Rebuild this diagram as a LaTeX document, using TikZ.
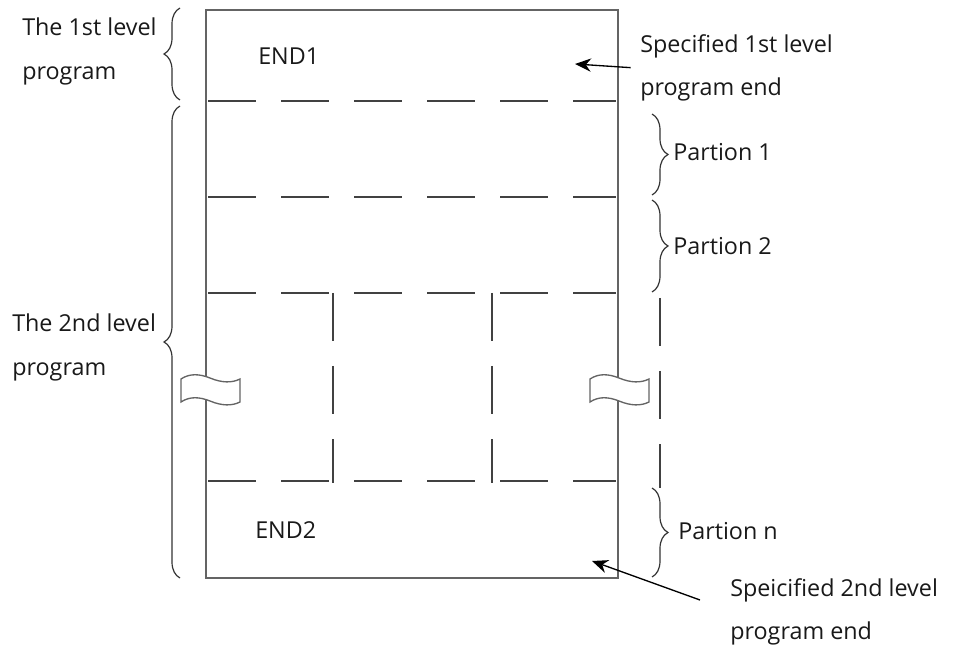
\documentclass[tikz,border=0pt]{standalone}
\usepackage{fontspec}
\setmainfont{Open Sans}
\usetikzlibrary{arrows.meta,decorations.pathreplacing,positioning}
\definecolor{framegray}{RGB}{100,100,100}
\definecolor{dashgray}{RGB}{65,65,65}
\tikzset{
  frame/.style   = {draw=framegray, line width=1.5pt},
  cut/.style     = {draw=dashgray, line width=1.6pt, dash pattern=on 36pt off 18.75pt},
  brc/.style     = {decorate, decoration={brace, amplitude=12pt}, draw=black!80, line width=0.9pt},
  lbl/.style     = {font=\fontsize{17.5}{32.5}\selectfont, align=left, inner sep=0pt, text=black!90},
  pointer/.style = {-{Stealth[length=12pt,width=10pt]}, line width=1pt},
}
\begin{document}
\begin{tikzpicture}[x=0.75pt,y=-0.75pt]
  \useasboundingbox (0,0) rectangle (953,648);

  % memory frame
  \coordinate (tl) at (206,10);
  \coordinate (br) at (618,578);
  \draw[frame] (tl) rectangle (br);

  % partition lines
  \foreach \yy in {101,197,293,481}
    \draw[cut] (208,\yy) -- (616,\yy);
  \foreach \xx in {333,492}
    \draw[cut] (\xx,293) -- (\xx,483);
  \draw[cut] (660,298) -- (660,488);

  % break marks
  \foreach \bx in {181,590}
    \draw[framegray, line width=1pt, fill=white, shift={(\bx,0)}]
      (0,379) .. controls (9,373) and (19,374) .. (29,378)
              .. controls (41,383) and (51,383) .. (59,379) -- (59,402)
              .. controls (51,406) and (41,406) .. (29,401)
              .. controls (19,397) and (9,396) .. (0,402) -- cycle;

  % texts inside
  \node[lbl, anchor=base west] (end1) at (258,65) {END1};
  \node[lbl, anchor=base west] (end2) at (255,538) {END2};

  % left side
  \draw[brc] (180,100) -- (180,8);
  \draw[brc] (180,578) -- (180,106);
  \node[lbl, anchor=north west] (lvl1) at (22,18) {The 1st level\\program};
  \node[lbl, anchor=north west] (lvl2) at (12,314) {The 2nd level\\program};

  % right side
  \draw[brc] (652,114) -- (652,195);
  \draw[brc] (652,200) -- (652,292);
  \draw[brc] (652,488) -- (652,577);
  \node[lbl, anchor=base west] (part1) at (673,161) {Partion 1};
  \node[lbl, anchor=base west] (part2) at (673,255) {Partion 2};
  \node[lbl, anchor=base west] (partn) at (678,539) {Partion n};

  \node[lbl, anchor=north west] (spec1) at (640,34) {Specified 1st level\\program end};
  \node[lbl, anchor=north west] (spec2) at (730,578) {Speicified 2nd level\\program end};

  % pointers
  \coordinate (tip1) at (575,64);
  \coordinate (tail2) at (700,600);
  \coordinate (tip2) at (592,561);
  \draw[pointer] ([xshift=-7pt]spec1.west) -- (tip1);
  \draw[pointer] (tail2) -- (tip2);
\end{tikzpicture}
\end{document}
